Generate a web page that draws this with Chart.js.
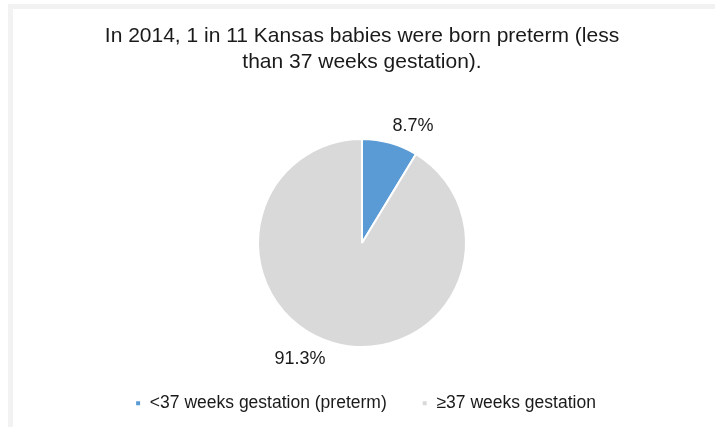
<!DOCTYPE html>
<html lang="en">
<head>
    <meta charset="UTF-8">
    <title>Preterm births</title>
    <script src="https://cdn.jsdelivr.net/npm/chart.js@4.4.0/dist/chart.umd.min.js"></script>
    <style>
        body { margin: 0; background: #fff; }
        #frame {
            position: absolute; left: 8px; top: 4px;
            width: 713px; height: 426px;
            border: 5px solid #f2f2f2; border-right-width: 4px; border-bottom-width: 2px;
            box-sizing: border-box;
        }
        #wrap { position: relative; width: 704px; height: 419px; }
    </style>
</head>
<body>
<div id="frame"><div id="wrap"><canvas id="myChart"></canvas></div></div>

<script>
// data
const categories = ['<37 weeks gestation (preterm)', '\u226537 weeks gestation'];
const shares = [8.7, 91.3];
const pctLabels = ['8.7%', '91.3%'];
const colors = ['#5b9bd5', '#d9d9d9'];
const titleLines = ['In 2014, 1 in 11 Kansas babies were born preterm (less', 'than 37 weeks gestation).'];

const FONT = "'Liberation Sans', Arial, sans-serif";

// draws the % labels just outside each slice
const sliceLabels = {
    id: 'sliceLabels',
    afterDatasetsDraw(chart, args, opts) {
        const ctx = chart.ctx;
        const meta = chart.getDatasetMeta(0);
        ctx.save();
        ctx.font = opts.size + 'px ' + FONT;
        ctx.fillStyle = '#1a1a1a';
        ctx.textAlign = 'center';
        ctx.textBaseline = 'middle';
        meta.data.forEach((arc, i) => {
            const p = arc.getProps(['x', 'y', 'startAngle', 'endAngle', 'outerRadius'], true);
            const mid = (p.startAngle + p.endAngle) / 2;
            const r = p.outerRadius + opts.gap;
            const off = opts.offsets[i];
            ctx.fillText(pctLabels[i], p.x + Math.cos(mid) * r + off[0], p.y + Math.sin(mid) * r + off[1]);
        });
        ctx.restore();
    }
};

// nudge the legend a little to the right (it sits off-centre in the original)
const legendShift = {
    id: 'legendShift',
    afterLayout(chart, args, opts) {
        if (chart.legend) {
            chart.legend.left += opts.dx;
            chart.legend.right += opts.dx;
        }
    }
};

const ctx = document.getElementById('myChart').getContext('2d');
const myChart = new Chart(ctx, {
    type: 'pie',
    data: {
        labels: categories,
        datasets: [{
            data: shares,
            backgroundColor: colors,
            borderColor: '#ffffff',
            borderWidth: 2
        }]
    },
    options: {
        responsive: true,
        maintainAspectRatio: false,
        animation: false,
        radius: 104,
        layout: { padding: { left: 0, right: 6, top: 0, bottom: 6 } },
        plugins: {
            title: {
                display: true,
                text: titleLines,
                color: '#1a1a1a',
                font: { family: FONT, size: 21, weight: 'normal', lineHeight: 1.2 },
                padding: { top: 15, bottom: 52 }
            },
            legend: {
                position: 'bottom',
                labels: {
                    color: '#1a1a1a',
                    font: { family: FONT, size: 17.5 },
                    usePointStyle: true,
                    pointStyle: 'rect',
                    boxWidth: 6,
                    boxHeight: 6,
                    padding: 35
                }
            },
            tooltip: { enabled: false },
            legendShift: { dx: 3.5 },
            sliceLabels: { size: 18, gap: 22, offsets: [[17, 4], [-28, -5]] }
        }
    },
    plugins: [sliceLabels, legendShift]
});
</script>
</body>
</html>
